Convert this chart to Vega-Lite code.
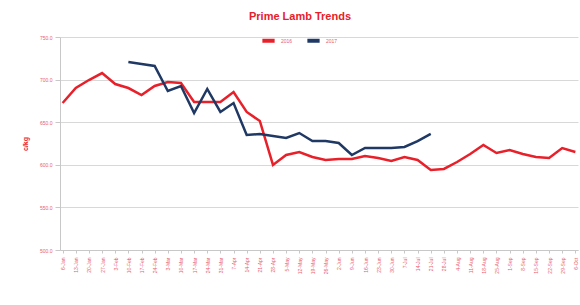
{
  "$schema": "https://vega.github.io/schema/vega-lite/v6.json",
  "autosize": {"type": "none"},
  "width": 518,
  "height": 213,
  "padding": {"left": 60, "top": 37, "right": 2, "bottom": 55},
  "background": "white",
  "title": {"text": "Prime Lamb Trends", "color": "#e8202a", "fontSize": 11, "fontWeight": "bold", "font": "Liberation Sans", "offset": 10, "anchor": "middle", "dx": -19},
  "data": {"values": [
    {"week": "6-Jan", "year": "2016", "price": 672.5},
    {"week": "13-Jan", "year": "2016", "price": 690.1},
    {"week": "20-Jan", "year": "2016", "price": 699.5},
    {"week": "27-Jan", "year": "2016", "price": 707.7},
    {"week": "3-Feb", "year": "2016", "price": 694.8},
    {"week": "10-Feb", "year": "2016", "price": 690.1},
    {"week": "17-Feb", "year": "2016", "price": 681.9},
    {"week": "24-Feb", "year": "2016", "price": 692.5},
    {"week": "3-Mar", "year": "2016", "price": 697.2},
    {"week": "10-Mar", "year": "2016", "price": 696.0},
    {"week": "17-Mar", "year": "2016", "price": 673.7},
    {"week": "24-Mar", "year": "2016", "price": 673.7},
    {"week": "31-Mar", "year": "2016", "price": 673.7},
    {"week": "7-Apr", "year": "2016", "price": 685.4},
    {"week": "14-Apr", "year": "2016", "price": 662.0},
    {"week": "21-Apr", "year": "2016", "price": 651.4},
    {"week": "28-Apr", "year": "2016", "price": 599.8},
    {"week": "5-May", "year": "2016", "price": 611.5},
    {"week": "12-May", "year": "2016", "price": 615.0},
    {"week": "19-May", "year": "2016", "price": 609.2},
    {"week": "26-May", "year": "2016", "price": 605.7},
    {"week": "2-Jun", "year": "2016", "price": 606.8},
    {"week": "9-Jun", "year": "2016", "price": 606.8},
    {"week": "16-Jun", "year": "2016", "price": 610.3},
    {"week": "23-Jun", "year": "2016", "price": 608.0},
    {"week": "30-Jun", "year": "2016", "price": 604.5},
    {"week": "7-Jul", "year": "2016", "price": 609.2},
    {"week": "14-Jul", "year": "2016", "price": 605.7},
    {"week": "21-Jul", "year": "2016", "price": 593.9},
    {"week": "28-Jul", "year": "2016", "price": 595.1},
    {"week": "4-Aug", "year": "2016", "price": 603.3},
    {"week": "11-Aug", "year": "2016", "price": 612.7},
    {"week": "18-Aug", "year": "2016", "price": 623.2},
    {"week": "25-Aug", "year": "2016", "price": 613.9},
    {"week": "1-Sep", "year": "2016", "price": 617.4},
    {"week": "8-Sep", "year": "2016", "price": 612.7},
    {"week": "15-Sep", "year": "2016", "price": 609.2},
    {"week": "22-Sep", "year": "2016", "price": 608.0},
    {"week": "29-Sep", "year": "2016", "price": 619.7},
    {"week": "6-Oct", "year": "2016", "price": 615.0},
    {"week": "10-Feb", "year": "2017", "price": 720.7},
    {"week": "17-Feb", "year": "2017", "price": 718.3},
    {"week": "24-Feb", "year": "2017", "price": 716.0},
    {"week": "3-Mar", "year": "2017", "price": 686.6},
    {"week": "10-Mar", "year": "2017", "price": 692.5},
    {"week": "17-Mar", "year": "2017", "price": 660.8},
    {"week": "24-Mar", "year": "2017", "price": 689.0},
    {"week": "31-Mar", "year": "2017", "price": 662.0},
    {"week": "7-Apr", "year": "2017", "price": 672.5},
    {"week": "14-Apr", "year": "2017", "price": 635.0},
    {"week": "21-Apr", "year": "2017", "price": 636.2},
    {"week": "28-Apr", "year": "2017", "price": 633.8},
    {"week": "5-May", "year": "2017", "price": 631.5},
    {"week": "12-May", "year": "2017", "price": 637.3},
    {"week": "19-May", "year": "2017", "price": 627.9},
    {"week": "26-May", "year": "2017", "price": 627.9},
    {"week": "2-Jun", "year": "2017", "price": 625.6},
    {"week": "9-Jun", "year": "2017", "price": 611.5},
    {"week": "16-Jun", "year": "2017", "price": 619.7},
    {"week": "23-Jun", "year": "2017", "price": 619.7},
    {"week": "30-Jun", "year": "2017", "price": 619.7},
    {"week": "7-Jul", "year": "2017", "price": 620.9},
    {"week": "14-Jul", "year": "2017", "price": 627.9},
    {"week": "21-Jul", "year": "2017", "price": 636.2}
  ]},
  "mark": {"type": "line", "strokeWidth": 2.5, "strokeJoin": "miter"},
  "encoding": {
    "x": {
      "field": "week", "type": "ordinal", "sort": null,
      "scale": {"type": "point", "padding": 0.2},
      "axis": {"title": null, "labelAngle": -90, "labelFontSize": 5, "labelColor": "#e86070", "labelFont": "Liberation Sans", "labelPadding": 4, "domainColor": "#c8c8c8", "tickColor": "#c8c8c8", "tickSize": 3, "grid": false, "labelOverlap": false}
    },
    "y": {
      "field": "price", "type": "quantitative",
      "scale": {"domain": [500, 750], "zero": false, "nice": false},
      "axis": {"title": "c/kg", "titleColor": "#e8202a", "titleFontSize": 7, "titleFont": "Liberation Sans", "titlePadding": 11, "values": [500, 550, 600, 650, 700, 750], "format": ".1f", "labelFontSize": 5, "labelColor": "#e86070", "labelFont": "Liberation Sans", "labelPadding": 3, "tickSize": 5, "tickColor": "#c8c8c8", "domainColor": "#c8c8c8", "gridColor": "#d8d8d8"}
    },
    "color": {
      "field": "year", "type": "nominal",
      "scale": {"domain": ["2016", "2017"], "range": ["#e8202a", "#1f3864"]},
      "legend": {"title": null, "orient": "none", "legendX": 200, "legendY": -5, "direction": "horizontal", "symbolType": "stroke", "symbolStrokeWidth": 4, "symbolSize": 150, "labelFontSize": 5, "labelColor": "#e86070", "columnPadding": 6}
    }
  },
  "config": {"view": {"stroke": null}}
}
